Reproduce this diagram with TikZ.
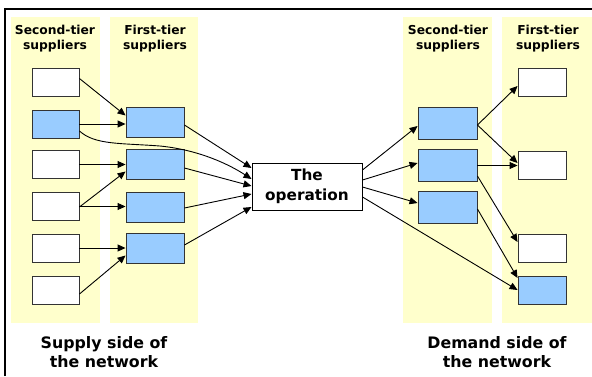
\documentclass[tikz,border=0pt]{standalone}
\usepackage{fontspec}
\setmainfont{DejaVu Sans}
\usetikzlibrary{arrows.meta}
\definecolor{colbg}{HTML}{FFFFCC}
\definecolor{boxblue}{HTML}{99CCFF}
\begin{document}
\begin{tikzpicture}[x=1pt,y=-1pt,
  col/.style={fill=colbg,draw=none},
  wbox/.style={draw=black!80,line width=0.9pt,fill=white,minimum width=#1,minimum height=28pt,inner sep=0pt},
  bbox/.style={draw=black!80,line width=0.9pt,fill=boxblue,minimum width=#1,minimum height=30pt,inner sep=0pt},
  hdr/.style={font=\fontsize{12.3}{14.5}\selectfont\bfseries,align=center,inner sep=0pt},
  foot/.style={font=\fontsize{15.8}{19}\selectfont\bfseries,align=center,inner sep=0pt},
  arr/.style={-{Triangle[length=8pt,width=7pt]},line width=0.9pt}
]
\useasboundingbox (0,0) rectangle (592,376);
\fill[white] (0,0) rectangle (592,376);
% columns
\fill[col] (11,17) rectangle (100,323);
\fill[col] (110,17) rectangle (198,323);
\fill[col] (403,17) rectangle (492,323);
\fill[col] (502,17) rectangle (592,323);
% frame
\draw[line width=1.2pt] (5,376) -- (5,9) -- (592,9);
% headers
\node[hdr] (h1) at (55,38.5) {Second-tier\\suppliers};
\node[hdr] (h2) at (155,38.5) {First-tier\\suppliers};
\node[hdr] (h3) at (448,38.5) {Second-tier\\suppliers};
\node[hdr] (h4) at (548,38.5) {First-tier\\suppliers};
% col1
\node[wbox=47pt] (s1) at (55.5,82.5) {};
\node[wbox=47pt,fill=boxblue] (s2) at (55.5,124) {};
\node[wbox=47pt] (s3) at (55.5,164.5) {};
\node[wbox=47pt] (s4) at (55.5,206.5) {};
\node[wbox=47pt] (s5) at (55.5,248) {};
\node[wbox=47pt] (s6) at (55.5,290) {};
% col2
\node[bbox=58pt] (f1) at (155,122.5) {};
\node[bbox=58pt] (f2) at (155,164.5) {};
\node[bbox=58pt] (f3) at (155,207) {};
\node[bbox=58pt] (f4) at (155,248.5) {};
% operation
\node[draw=black,line width=1pt,fill=white,minimum width=110pt,minimum height=47pt,inner sep=0pt,
  font=\fontsize{15.3}{20}\selectfont\bfseries,align=center] (op) at (307,186.5) {The\\operation};
% col3
\node[bbox=59pt,minimum height=32pt] (d1) at (447.5,123) {};
\node[bbox=59pt,minimum height=32pt] (d2) at (447.5,165.5) {};
\node[bbox=59pt,minimum height=32pt] (d3) at (447.5,207.5) {};
% col4
\node[wbox=48pt] (c1) at (542,82.5) {};
\node[wbox=48pt] (c2) at (542,165) {};
\node[wbox=48pt] (c3) at (542,248.5) {};
\node[wbox=48pt,fill=boxblue] (c4) at (542,290.5) {};
% footers
\node[foot] (l1) at (104,352) {Supply side of\\the network};
\node[foot] (l2) at (497,352) {Demand side of\\the network};
% left arrows
\draw[arr] ([yshift=4pt]s1.east) -- ([yshift=7pt]f1.west);
\draw[arr] (s2.east) -- (f1.west |- s2.east);
\draw[arr] (s3.east) -- (f2.west |- s3.east);
\draw[arr] ([yshift=-0.5pt]s4.east) -- ([yshift=-7pt]f2.west);
\draw[arr] (s4.east) -- (f3.west |- s4.east);
\draw[arr] (s5.east) -- (f4.west |- s5.east);
\draw[arr] ([yshift=-4pt]s6.east) -- ([yshift=-7pt]f4.west);
\draw[arr] ([yshift=-7pt]s2.east) .. controls (95,145) and (120,143) .. (160,146) .. controls (200,150) and (230,165) .. ([yshift=7.5pt]op.west);
\draw[arr] ([yshift=-2.5pt]f1.east) -- ([yshift=18.5pt]op.west);
\draw[arr] ([yshift=-3.5pt]f2.east) -- ([yshift=0.5pt]op.west);
\draw[arr] ([yshift=-1pt]f3.east) -- ([yshift=-7.5pt]op.west);
\draw[arr] ([yshift=3.5pt]f4.east) -- ([yshift=-20.5pt]op.west);
% right arrows
\draw[arr] ([yshift=16.5pt]op.east) -- ([yshift=-3pt]d1.west);
\draw[arr] ([yshift=6.5pt]op.east) -- ([yshift=2.5pt]d2.west);
\draw[arr] ([yshift=-0.5pt]op.east) -- ([yshift=4.5pt]d3.west);
\draw[arr] ([yshift=-10.5pt]op.east) -- ([yshift=0.5pt]c4.west);
\draw[arr] ([yshift=-2pt]d1.east) -- ([yshift=-3.5pt]c1.west);
\draw[arr] ([yshift=-2pt]d1.east) -- ([yshift=2pt]c2.west);
\draw[arr] (d2.east) -- (c2.west |- d2.east);
\draw[arr] ([yshift=-10.5pt]d2.east) -- ([yshift=6.5pt]c3.west);
\draw[arr] ([yshift=-1.5pt]d3.east) -- ([yshift=12.5pt]c4.west);
\end{tikzpicture}
\end{document}
